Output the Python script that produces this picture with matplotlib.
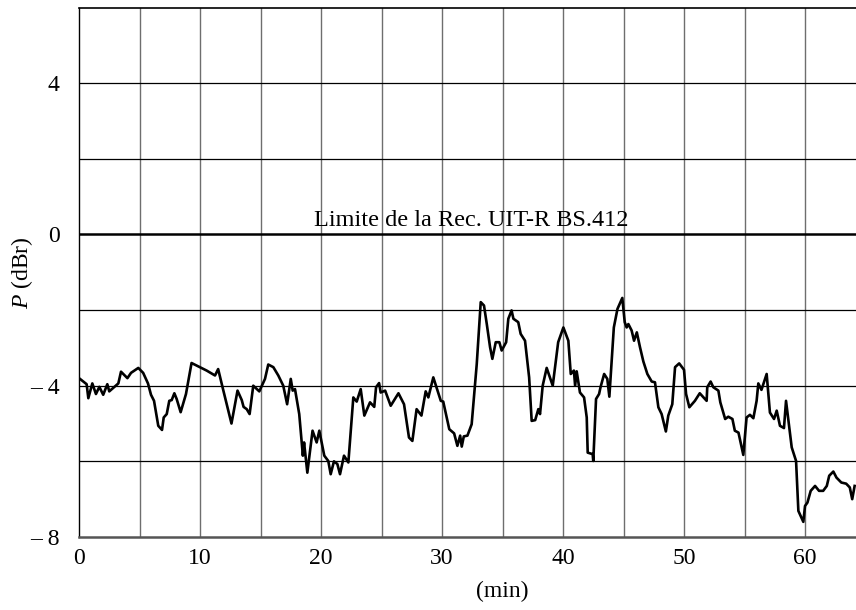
import numpy as np
import matplotlib
matplotlib.use("Agg")
import matplotlib.pyplot as plt

# =====================================
# DATA
# =====================================

time_min = [
    0.0, 0.63, 0.77, 1.1, 1.4, 1.68, 2.0, 2.34, 2.5, 3.25, 3.47, 4.0, 4.3, 4.9,
    5.3, 5.7, 5.95, 6.2, 6.55, 6.86, 7.0, 7.25, 7.46, 7.66, 7.88, 8.07, 8.4,
    8.84, 9.3, 9.86, 10.55, 11.24, 11.5, 11.9, 12.6, 13.1, 13.45, 13.6, 13.86,
    14.1, 14.4, 14.9, 15.37, 15.64, 16.06, 16.47, 16.88, 17.2, 17.5, 17.66,
    17.85, 18.2, 18.5, 18.6, 18.87, 19.3, 19.64, 19.86, 20.27, 20.6, 20.8,
    21.07, 21.35, 21.57, 21.9, 22.26, 22.67, 22.95, 23.28, 23.58, 24.05, 24.4,
    24.55, 24.8, 24.93, 25.3, 25.76, 26.4, 26.86, 27.27, 27.55, 27.9, 28.3,
    28.65, 28.87, 29.28, 29.9, 30.1, 30.6, 31.0, 31.27, 31.5, 31.63, 31.8,
    32.1, 32.45, 32.87, 33.2, 33.47, 33.7, 33.97, 34.16, 34.44, 34.74, 34.93,
    35.3, 35.48, 35.75, 35.9, 36.3, 36.5, 36.86, 37.2, 37.41, 37.7, 37.96,
    38.1, 38.32, 38.65, 39.15, 39.6, 40.03, 40.44, 40.64, 40.9, 41.0, 41.13,
    41.4, 41.74, 41.96, 42.04, 42.45, 42.5, 42.73, 42.98, 43.1, 43.4, 43.66,
    43.83, 44.2, 44.5, 44.9, 45.1, 45.26, 45.4, 45.67, 45.87, 46.1, 46.36,
    46.64, 46.97, 47.33, 47.6, 47.88, 48.15, 48.5, 48.7, 49.03, 49.26, 49.6,
    50.0, 50.17, 50.44, 50.9, 51.3, 51.87, 51.92, 52.2, 52.42, 52.84, 53.0,
    53.4, 53.66, 54.0, 54.2, 54.5, 54.9, 55.17, 55.45, 55.73, 56.0, 56.14,
    56.4, 56.83, 57.1, 57.44, 57.66, 57.93, 58.26, 58.43, 58.9, 59.26, 59.45,
    59.86, 60.0, 60.2, 60.47, 60.83, 61.16, 61.5, 61.8, 62.0, 62.34, 62.6,
    63.0, 63.4, 63.7, 63.9, 64.1,
]

power_dbr = [
    -3.80, -3.96, -4.33, -3.94, -4.22, -4.03, -4.24, -3.96, -4.15, -3.94,
    -3.63, -3.80, -3.66, -3.53, -3.66, -3.94, -4.24, -4.40, -5.06, -5.17,
    -4.84, -4.75, -4.40, -4.38, -4.20, -4.35, -4.70, -4.22, -3.40, -3.49,
    -3.60, -3.73, -3.56, -4.09, -5.00, -4.13, -4.38, -4.56, -4.62, -4.75,
    -4.00, -4.15, -3.82, -3.44, -3.51, -3.73, -4.00, -4.49, -3.82, -4.13,
    -4.09, -4.75, -5.85, -5.50, -6.30, -5.19, -5.50, -5.19, -5.85, -5.99,
    -6.34, -6.00, -6.07, -6.34, -5.85, -6.03, -4.31, -4.42, -4.09, -4.79,
    -4.44, -4.56, -4.04, -3.93, -4.18, -4.13, -4.53, -4.20, -4.49, -5.37,
    -5.46, -4.62, -4.79, -4.15, -4.31, -3.78, -4.40, -4.42, -5.15, -5.26,
    -5.59, -5.32, -5.61, -5.34, -5.32, -5.02, -3.43, -1.79, -1.88, -2.37,
    -2.98, -3.29, -2.85, -2.85, -3.07, -2.85, -2.23, -2.01, -2.23, -2.32,
    -2.63, -2.81, -3.78, -4.93, -4.91, -4.62, -4.75, -4.00, -3.53, -4.00,
    -2.85, -2.46, -2.81, -3.69, -3.60, -4.00, -3.62, -4.18, -4.31, -4.84,
    -5.77, -5.81, -5.99, -4.35, -4.22, -4.04, -3.69, -3.82, -4.29, -2.46,
    -1.97, -1.68, -2.32, -2.46, -2.37, -2.54, -2.81, -2.59, -2.98, -3.36,
    -3.69, -3.89, -3.91, -4.57, -4.75, -5.21, -4.79, -4.49, -3.51, -3.41,
    -3.58, -4.22, -4.57, -4.40, -4.20, -4.40, -4.04, -3.89, -4.04, -4.13,
    -4.44, -4.88, -4.82, -4.88, -5.19, -5.24, -5.83, -4.84, -4.77, -4.86,
    -4.40, -3.94, -4.11, -3.69, -4.71, -4.88, -4.66, -5.06, -5.12, -4.40,
    -5.63, -5.99, -7.31, -7.60, -7.18, -7.09, -6.78, -6.65, -6.78, -6.78,
    -6.65, -6.38, -6.27, -6.43, -6.56, -6.59, -6.69, -7.00, -6.65,
]

x_ticks = [0, 10, 20, 30, 40, 50, 60]
y_ticks = [-8, -4, 0, 4]
y_tick_labels = ["\u2013 8", "\u2013 4", "0", "4"]

limit_text = "Limite de la Rec. UIT-R BS.412"

# =====================================
# FIGURE
# =====================================

plt.rcParams["font.family"] = ["Liberation Serif", "DejaVu Serif"]
plt.rcParams["mathtext.fontset"] = "custom"
plt.rcParams["mathtext.rm"] = "Liberation Serif"
plt.rcParams["mathtext.it"] = "Liberation Serif:italic"

fig = plt.figure(figsize=(8.56, 6.10), dpi=100)
# the original axis runs on to 70 min; the picture is cut at ~64
ax = fig.add_axes([0.0923, 0.1197, 0.9895, 0.868])

ax.set_xlim(0, 70)
ax.set_ylim(-8, 6)

# grid
for xv in np.arange(5, 70, 5):
    ax.axvline(xv, color="#6e6e6e", lw=1.0, zorder=1)
for yv in [-6, -4, -2, 2, 4]:
    ax.axhline(yv, color="black", lw=0.9, zorder=1)
ax.axhline(0, color="black", lw=1.8, zorder=2)

# trace
ax.plot(time_min, power_dbr, color="black", lw=1.9, zorder=3)

ax.text(32.4, 0.21, limit_text, ha="center", va="baseline", fontsize=17.5)

# spines
ax.spines["right"].set_visible(False)
ax.spines["top"].set_linewidth(1.2)
ax.spines["left"].set_linewidth(1.0)
ax.spines["bottom"].set_color("#555555")
ax.spines["bottom"].set_linewidth(1.8)

ax.set_xticks(x_ticks)
ax.set_xticklabels([str(t) for t in x_ticks])
ax.set_yticks(y_ticks)
ax.set_yticklabels(y_tick_labels)
ax.tick_params(axis="both", length=0, labelsize=17)
ax.tick_params(axis="x", pad=8)
ax.tick_params(axis="y", pad=14)

ax.set_xlabel("(min)", fontsize=17)
ax.xaxis.set_label_coords(35.0 / 70, -0.082)
ax.set_ylabel("$\\mathit{P}$ (dBr)", fontsize=17)
ax.yaxis.set_label_coords(-0.052, 0.5)

fig.savefig("out.png", dpi=100)
plt.close()
